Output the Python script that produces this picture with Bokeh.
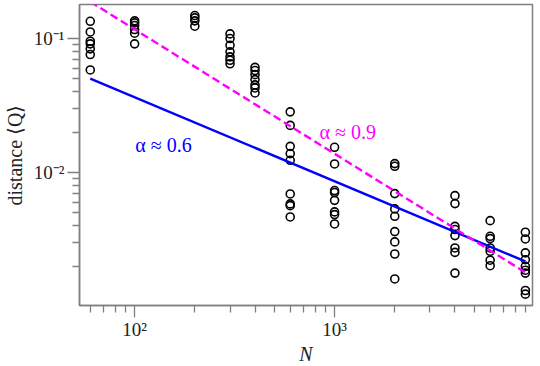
from bokeh.plotting import figure
from bokeh.models import FixedTicker, Label, CustomJSTickFormatter
from bokeh.embed import file_html
from bokeh.resources import INLINE
import numpy as np

# ---- data ----
sizes = [60, 100, 200, 300, 400, 600, 1000, 2000, 4000, 6000, 9000]
distances = [
    [0.1345, 0.112, 0.0955, 0.0913, 0.0838, 0.076, 0.0583],
    [0.1355, 0.131, 0.125, 0.1167, 0.1096, 0.0913],
    [0.1485, 0.1426, 0.1355, 0.1236],
    [0.1083, 0.100, 0.0891, 0.0796, 0.073, 0.0689, 0.0648],
    [0.061, 0.0577, 0.0538, 0.0494, 0.0451, 0.0428, 0.0393],
    [0.0284, 0.0225, 0.0157, 0.01386, 0.01235, 0.00693, 0.00584, 0.00567, 0.00467],
    [0.01545, 0.0116, 0.00735, 0.0071, 0.00621, 0.00509, 0.00486, 0.00414],
    [0.01167, 0.01114, 0.00697, 0.00536, 0.00472, 0.00363, 0.00304, 0.00247, 0.00161],
    [0.00673, 0.00587, 0.00397, 0.00376, 0.00339, 0.00274, 0.00254, 0.00178],
    [0.00438, 0.00335, 0.00322, 0.00274, 0.00259, 0.00222, 0.00202],
    [0.00359, 0.0032, 0.00252, 0.00224, 0.002, 0.00187, 0.00178, 0.00132, 0.00124],
]

# power-law fits: Q = Q_ref * (N / N_ref) ** (-alpha)
fit_N = [60, 9000]
blue_alpha, blue_Nref, blue_Qref = 0.627, 60, 0.0503
mag_alpha, mag_Nref, mag_Qref = 0.928, 9000, 0.0018

x_major = [100, 1000]
x_minor = [60, 70, 80, 90, 200, 300, 400, 500, 600, 700, 800, 900,
           2000, 3000, 4000, 5000, 6000, 7000, 8000, 9000]
y_major = [0.01, 0.1]
y_minor = [0.002, 0.003, 0.004, 0.005, 0.006, 0.007, 0.008, 0.009,
           0.02, 0.03, 0.04, 0.05, 0.06, 0.07, 0.08, 0.09]

label_blue = "α ≈ 0.6"
label_mag = "α ≈ 0.9"

# ---- figure ----
SERIF = "Liberation Serif"
GRAY = "#808080"

p = figure(frame_width=453, frame_height=301, x_axis_type="log", y_axis_type="log",
           x_range=(53, 9770), y_range=(0.00102, 0.1795),
           output_backend="svg", toolbar_location=None,
           min_border_left=76, min_border_right=2, min_border_top=4,
           min_border_bottom=50)
p.grid.visible = False
p.background_fill_color = "white"
p.border_fill_color = "white"
p.outline_line_color = GRAY
p.outline_line_width = 1.5

xs = []
ys = []
for n, col in zip(sizes, distances):
    xs += [n] * len(col)
    ys += col

p.scatter(xs, ys, marker="circle", size=8, fill_color=None,
          line_color="black", line_width=1.6)

fitN = np.array(fit_N, dtype=float)
p.line(fitN, blue_Qref * (fitN / blue_Nref) ** (-blue_alpha),
       line_color="#0000ff", line_width=2.4)
p.line(fitN, mag_Qref * (fitN / mag_Nref) ** (-mag_alpha),
       line_color="#ff00ff", line_width=2.4, line_dash="8 4")

p.add_layout(Label(x=100.8, y=0.0162, text=label_blue, text_color="#0000ff",
                   text_font=SERIF, text_font_size="20px",
                   text_baseline="alphabetic"))
p.add_layout(Label(x=841, y=0.0200, text=label_mag, text_color="#ff00ff",
                   text_font=SERIF, text_font_size="20px",
                   text_baseline="alphabetic"))

fmt_code = """
const sup = {"-": "\u207b", "0": "\u2070", "1": "\u00b9", "2": "\u00b2", "3": "\u00b3",
             "4": "\u2074", "5": "\u2075", "6": "\u2076", "7": "\u2077", "8": "\u2078", "9": "\u2079"};
const e = Math.round(Math.log10(tick));
return "10" + String(e).split("").map(c => sup[c]).join("");
"""

p.xaxis.ticker = FixedTicker(ticks=x_major, minor_ticks=x_minor)
p.yaxis.ticker = FixedTicker(ticks=y_major, minor_ticks=y_minor)

for ax in (p.xaxis, p.yaxis):
    ax.formatter = CustomJSTickFormatter(code=fmt_code)
    ax.axis_line_color = GRAY
    ax.axis_line_width = 1.5
    ax.major_tick_line_color = GRAY
    ax.minor_tick_line_color = GRAY
    ax.major_tick_line_width = 1.3
    ax.minor_tick_line_width = 1.3
    ax.major_tick_out = 12
    ax.major_tick_in = 0
    ax.minor_tick_out = 7
    ax.minor_tick_in = 0
    ax.major_label_text_font = SERIF
    ax.major_label_text_font_size = "19px"
    ax.major_label_text_color = "#222222"
    ax.axis_label_text_font = SERIF
    ax.axis_label_text_font_size = "20px"
    ax.axis_label_text_color = "#222222"

p.xaxis.axis_label = "N"
p.xaxis.axis_label_text_font_style = "italic"
p.xaxis.major_label_standoff = 1
p.xaxis.axis_label_standoff = 0
p.yaxis.axis_label = "distance ⟨Q⟩"
p.yaxis.axis_label_text_font_style = "normal"
p.yaxis.major_label_standoff = 3
p.yaxis.axis_label_standoff = 5

open("out.html", "w").write(file_html(p, INLINE))
